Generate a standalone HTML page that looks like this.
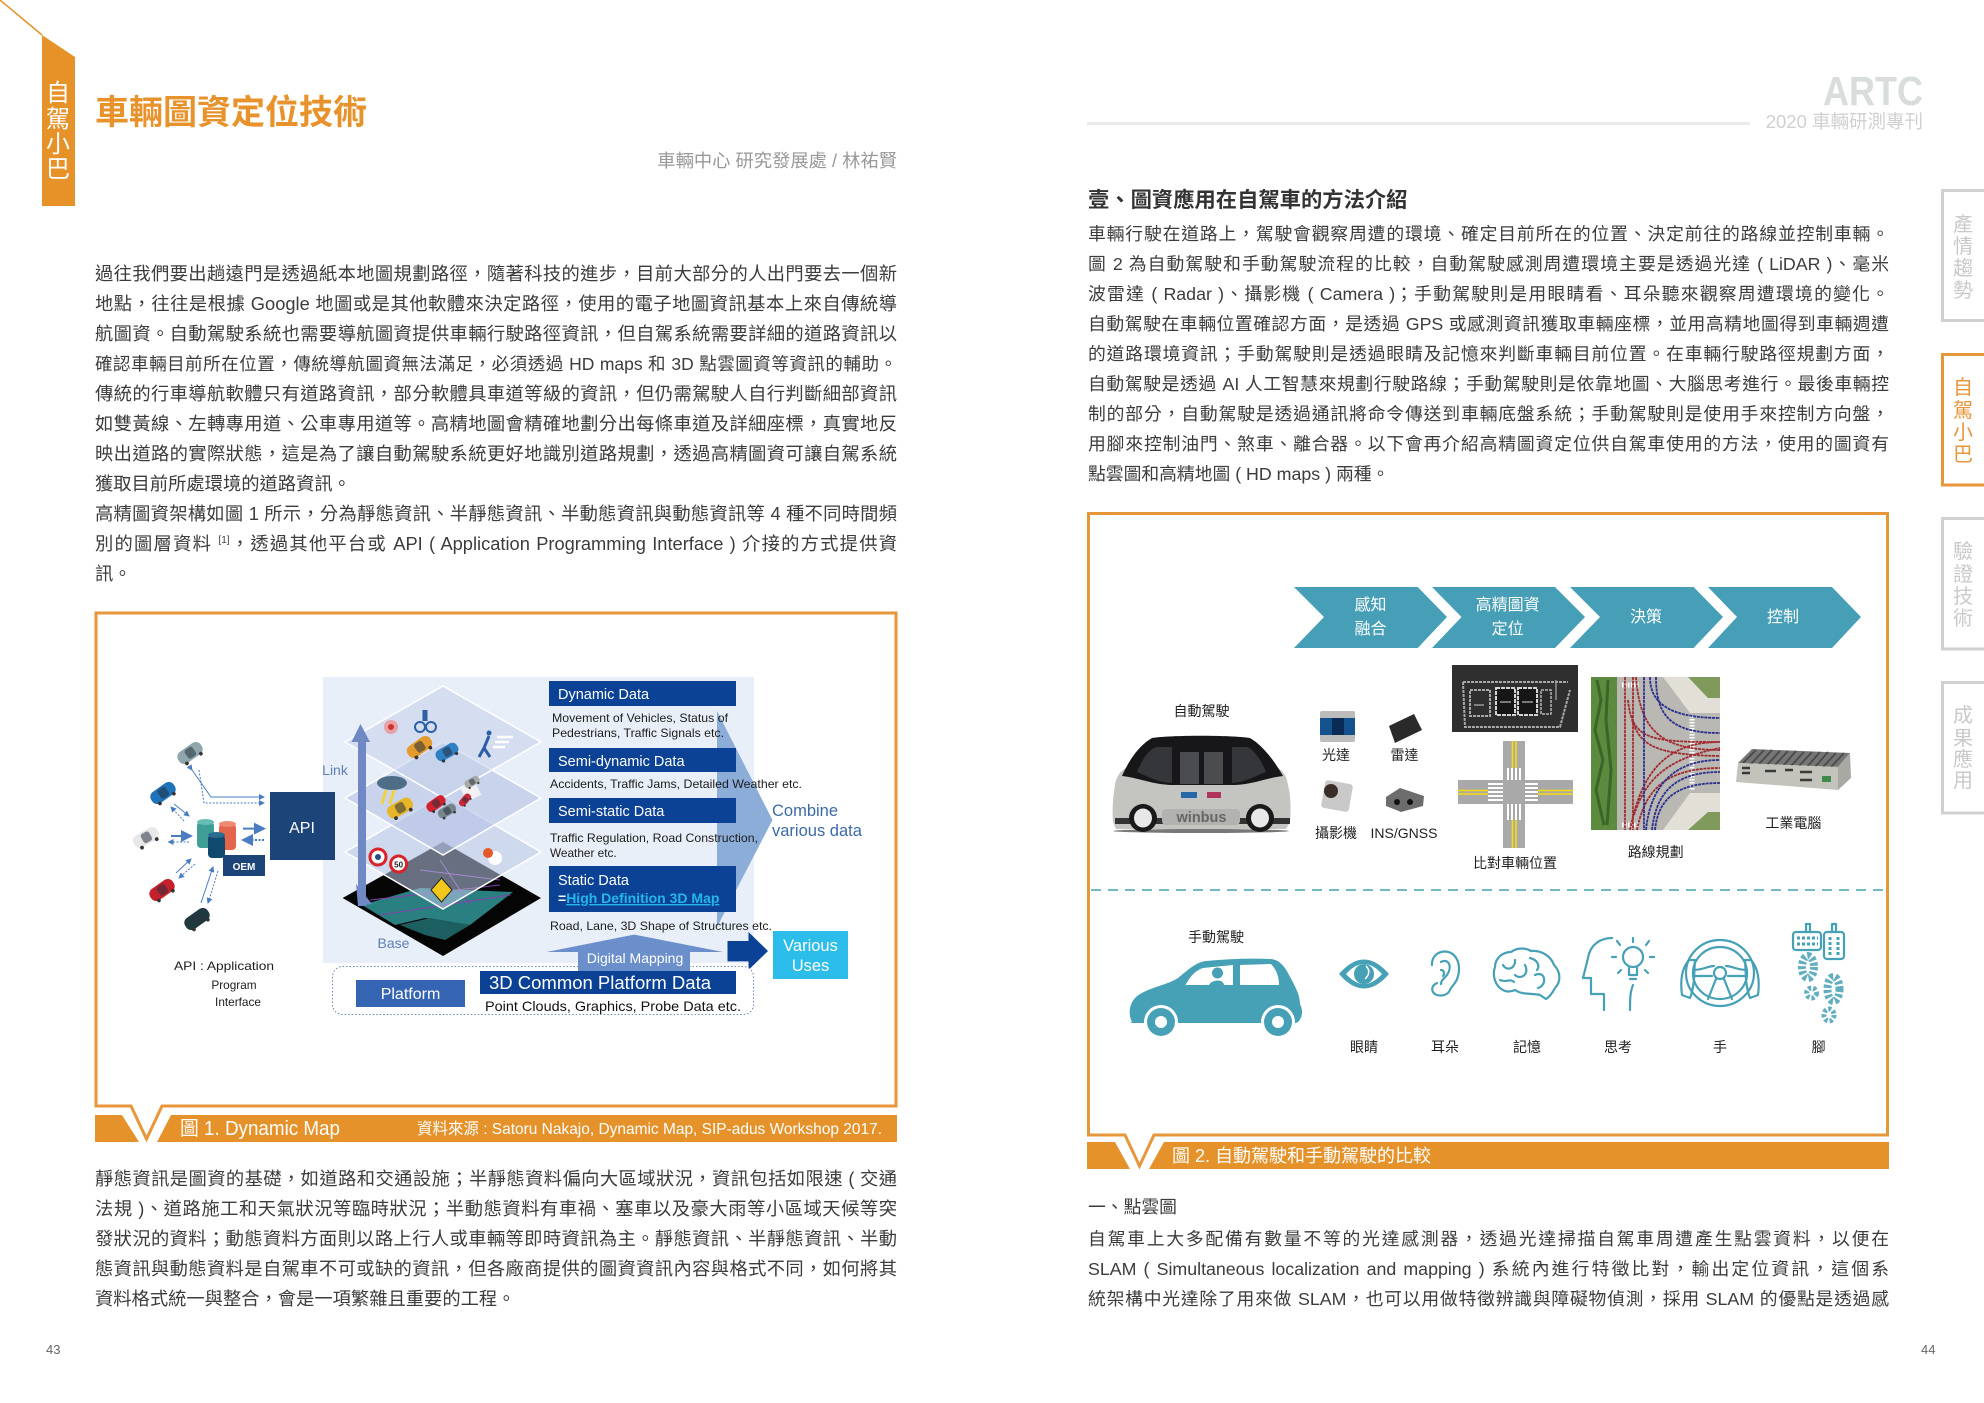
<!DOCTYPE html>
<html lang="zh-Hant">
<head>
<meta charset="utf-8">
<title>車輛圖資定位技術</title>
<style>
html,body{margin:0;padding:0;background:#fff}
body{position:relative;width:1984px;height:1403px;overflow:hidden;font-family:"Liberation Sans","Noto Sans CJK TC",sans-serif;color:#3c3c3c}
.l,.r{position:absolute;height:30px;line-height:30px;white-space:nowrap;text-align:justify;text-align-last:justify}
.l{left:95px;width:802px;font-size:18.3px}
.r{left:1088px;width:801px;font-size:17.8px}
.s{text-align-last:left}
sup{font-size:10px;line-height:0}
svg{position:absolute;left:0;top:0}
svg text{font-family:"Liberation Sans","Noto Sans CJK TC",sans-serif}
.m{text-anchor:middle}
.k{font-size:14px;fill:#222}
.e{font-size:11.8px;fill:#1c1c1c}
.w{fill:#fff}
.tab{font-size:20px;text-anchor:middle;fill:#c9c9c9}
</style>
</head>
<body>
<svg width="1984" height="1403" viewBox="0 0 1984 1403" xmlns="http://www.w3.org/2000/svg">
<defs>
<marker id="ah" markerWidth="6" markerHeight="6" refX="5" refY="3" orient="auto"><path d="M0 0L6 3L0 6z" fill="#4a7cc4"/></marker>
<g id="car">
  <rect x="-16" y="-8" width="32" height="16" rx="7" fill="currentColor"/>
  <rect x="-5" y="-6" width="11" height="12" rx="3" fill="#26323e" opacity=".55"/>
  <circle cx="-10" cy="8" r="2.2" fill="#333"/><circle cx="10" cy="8" r="2.2" fill="#333"/>
</g>
</defs>

<!-- left ribbon -->
<path d="M0 0L42 35" stroke="#e69229" stroke-width="1.5" fill="none"/>
<polygon points="42,35 75,57 75,206 42,206" fill="#e69229"/>
<g style="font-size:24px" class="w m">
<text x="58" y="101" class="m w">自</text><text x="58" y="127" class="m w">駕</text><text x="58" y="152" class="m w">小</text><text x="58" y="177" class="m w">巴</text>
</g>
<text x="95" y="124" style="font-size:34px;font-weight:700" fill="#e8922c">車輛圖資定位技術</text>
<text x="897" y="167" text-anchor="end" style="font-size:18.3px" fill="#999">車輛中心 研究發展處 / 林祐賢</text>

<!-- figure 1 frame -->
<rect x="95" y="1115" width="802" height="27" fill="#e6922b"/>
<polygon points="122,1115 171,1115 157,1142 139,1142" fill="#fff"/>
<path d="M96 1106V613H896V1106H162L146.5 1139L131 1106Z" fill="#fff" stroke="#e8963a" stroke-width="3"/>
<text x="180" y="1135" style="font-size:20px" class="w" textLength="160" lengthAdjust="spacingAndGlyphs">圖 1. Dynamic Map</text>
<text x="417" y="1134" style="font-size:16px" class="w" textLength="465" lengthAdjust="spacingAndGlyphs">資料來源 : Satoru Nakajo, Dynamic Map, SIP-adus Workshop 2017.</text>

<!-- figure 1 content -->
<rect x="323" y="677" width="431" height="286" fill="#e9eff8"/>
<polygon points="717,711 772.5,820 717,927" fill="#8badd8"/>
<!-- base -->
<polygon points="342.6,898 443,842 541,898 443,956" fill="#050505"/>
<polygon points="362,905 420,888 513,892 470,925 425,918 395,925" fill="#2a7f80"/>
<polygon points="400,925 430,918 470,925 445,940 425,935" fill="#1d5e60"/>
<path d="M370 900L500 885M380 915L510 895M420 870L500 880M440 860L470 905" stroke="#8a3fb0" stroke-width="1" fill="none"/>
<!-- layers -->
<polygon points="345,852 443,795 541,852 443,909" fill="#b9c6e6" fill-opacity=".55" stroke="#fff" stroke-width="1.5"/>
<polygon points="345,798 443,742 541,798 443,855" fill="#b4c2e4" fill-opacity=".6" stroke="#fff" stroke-width="1.5"/>
<polygon points="345,742 443,686 541,742 443,798" fill="#c5d0eb" fill-opacity=".55" stroke="#fff" stroke-width="1.5"/>
<polygon points="441.5,878 452,890 441.5,902 431,890" fill="#f2c81c" stroke="#222"/>
<!-- link arrow -->
<rect x="358" y="738" width="8" height="168" fill="#7088c4"/>
<polygon points="351.5,742 360.5,724 370,742" fill="#7088c4"/>
<polygon points="356,884 372,904 358,906" fill="#7088c4"/>
<!-- scene objects -->
<circle cx="391" cy="727" r="7" fill="#e88" opacity=".7"/><circle cx="391" cy="727" r="3" fill="#c33"/>
<circle cx="420" cy="727" r="5" fill="none" stroke="#2c5fa6" stroke-width="2"/><circle cx="431" cy="727" r="5" fill="none" stroke="#2c5fa6" stroke-width="2"/><path d="M425 721V710" stroke="#2c5fa6" stroke-width="5"/>
<use href="#car" transform="translate(419.5,747) rotate(-35) scale(.85)" color="#e49a2c"/>
<use href="#car" transform="translate(447,752) rotate(-30) scale(.75)" color="#2f7fc4"/>
<path d="M489 736L484 748L479 757M484 748L490 757" stroke="#2c5fa6" stroke-width="3" fill="none"/><circle cx="489" cy="733" r="2.5" fill="#2c5fa6"/>
<path d="M497 737H513M495 742H509M493 747H505" stroke="#fff" stroke-width="2.5"/>
<ellipse cx="392" cy="783" rx="15" ry="7" fill="#4e6e88"/>
<path d="M386 790L382 804M394 790L390 804" stroke="#f2d33b" stroke-width="3"/>
<use href="#car" transform="translate(400,808) rotate(-30) scale(.85)" color="#e6b52a"/>
<use href="#car" transform="translate(436,803.6) rotate(-35) scale(.65)" color="#d3222f"/>
<use href="#car" transform="translate(447,811) rotate(-30) scale(.6)" color="#77858f"/>
<rect x="463" y="785" width="16" height="14" fill="#f2f2f2" transform="rotate(-25 471 792)"/>
<use href="#car" transform="translate(472,782) rotate(-30) scale(.5)" color="#a9a9a9"/>
<use href="#car" transform="translate(465,800) rotate(-50) scale(.45)" color="#c9283a"/>
<circle cx="378" cy="857" r="8" fill="#fff" stroke="#d8232a" stroke-width="3"/><circle cx="378" cy="857" r="3" fill="#2b4a8a"/>
<circle cx="398.6" cy="864" r="8" fill="#fff" stroke="#d8232a" stroke-width="3"/>
<text x="398.6" y="867.5" class="m" style="font-size:8px;font-weight:700" fill="#222">50</text>
<circle cx="495" cy="858" r="7" fill="#fff"/><circle cx="488" cy="853" r="5" fill="#e4582a"/>
<!-- blue boxes -->
<rect x="549" y="681" width="187" height="25" fill="#0b4295"/>
<rect x="549" y="748" width="187" height="24" fill="#0b4295"/>
<rect x="549" y="798" width="187" height="25" fill="#0b4295"/>
<rect x="549" y="866" width="187" height="46" fill="#0b4295"/>
<text x="558" y="699" class="w" style="font-size:14.5px">Dynamic Data</text>
<text x="558" y="766" class="w" style="font-size:14.5px">Semi-dynamic Data</text>
<text x="558" y="816" class="w" style="font-size:14.5px">Semi-static Data</text>
<text x="558" y="885" class="w" style="font-size:14.5px">Static Data</text>
<text x="558" y="903" style="font-size:14px;font-weight:700" fill="#24b6ea"><tspan fill="#fff">=</tspan><tspan text-decoration="underline">High Definition 3D Map</tspan></text>
<text x="552" y="722" class="e" textLength="176" lengthAdjust="spacingAndGlyphs">Movement of Vehicles, Status of</text>
<text x="552" y="737" class="e" textLength="172" lengthAdjust="spacingAndGlyphs">Pedestrians, Traffic Signals etc.</text>
<text x="550" y="788" class="e" textLength="252" lengthAdjust="spacingAndGlyphs">Accidents, Traffic Jams, Detailed Weather etc.</text>
<text x="550" y="842" class="e" textLength="208" lengthAdjust="spacingAndGlyphs">Traffic Regulation, Road Construction,</text>
<text x="550" y="857" class="e">Weather etc.</text>
<text x="550" y="930" class="e" textLength="222" lengthAdjust="spacingAndGlyphs">Road, Lane, 3D Shape of Structures etc.</text>
<text x="772" y="816" style="font-size:16.5px" fill="#3b6aa8">Combine</text>
<text x="772" y="836" style="font-size:16.5px" fill="#3b6aa8">various data</text>
<rect x="773" y="931" width="75" height="48" fill="#2cbdeb"/>
<text x="810.5" y="951" class="w m" style="font-size:16.5px">Various</text>
<text x="810.5" y="971" class="w m" style="font-size:16.5px">Uses</text>
<polygon points="727.5,941 748.5,941 748.5,932 768,951 748.5,970 748.5,961.4 727.5,961.4" fill="#0b4295"/>
<rect x="332.5" y="966.5" width="421" height="48" rx="10" fill="#fff" stroke="#6d88b5" stroke-dasharray="1.5 2"/>
<polygon points="546.6,952 634,934.6 723,952 690,952 690,971 578,971 578,952" fill="#6a8fcb"/>
<text x="635" y="963" class="w m" style="font-size:14px">Digital Mapping</text>
<rect x="480" y="971" width="256" height="23" fill="#0b4295"/>
<text x="489" y="989" class="w" style="font-size:18px" textLength="222" lengthAdjust="spacingAndGlyphs">3D Common Platform Data</text>
<text x="485" y="1011" style="font-size:14px" fill="#111" textLength="256" lengthAdjust="spacingAndGlyphs">Point Clouds, Graphics, Probe Data etc.</text>
<rect x="356" y="980" width="109" height="27" fill="#3565b2"/>
<text x="410.5" y="999" class="w m" style="font-size:16px">Platform</text>
<rect x="270" y="792" width="65" height="68" fill="#1d4478"/>
<text x="302" y="833" class="w m" style="font-size:16px">API</text>
<text x="335" y="775" class="m" style="font-size:14px" fill="#5e7fb8">Link</text>
<text x="393.5" y="948" class="m" style="font-size:14px" fill="#5e7fb8">Base</text>
<!-- cars -->
<use href="#car" transform="translate(190,753) rotate(-35) scale(.85)" color="#8fa6ac"/>
<use href="#car" transform="translate(163,793) rotate(-35) scale(.85)" color="#1d72b8"/>
<use href="#car" transform="translate(146,837.5) rotate(-30) scale(.85)" color="#e8e8e8"/>
<use href="#car" transform="translate(162,890) rotate(-35) scale(.85)" color="#c5202c"/>
<use href="#car" transform="translate(197,919) rotate(-35) scale(.85)" color="#1f3a3f"/>
<g stroke="#4a7cc4" stroke-width="1" fill="none" marker-end="url(#ah)">
<path d="M192 770L211 797H264" marker-start="url(#ah)"/>
<path d="M199 770L204 803H264" stroke-dasharray="2 1.5"/>
<path d="M174 804L189 816"/><path d="M184 821L171 807" stroke-dasharray="2 1.5"/>
<path d="M171 836H191" stroke-width="2"/><path d="M189 842H168.5" stroke-dasharray="2 1.5"/>
<path d="M176 873L191 859"/><path d="M195 864L179 878" stroke-dasharray="2 1.5"/>
<path d="M201 903L213 867"/><path d="M218 871L208 903" stroke-dasharray="2 1.5"/>
<path d="M243 828.6H264" stroke-width="2"/><path d="M264 840H243" stroke-width="2" stroke-dasharray="2 1.5"/>
</g>
<rect x="197" y="822" width="17" height="26" rx="4" fill="#3f9e96"/><ellipse cx="205.5" cy="822" rx="8.5" ry="3" fill="#65bdb4"/>
<rect x="219" y="824" width="17" height="26" rx="4" fill="#e4654c"/><ellipse cx="227.5" cy="824" rx="8.5" ry="3" fill="#ef8a72"/>
<rect x="208" y="835" width="17" height="23" rx="4" fill="#0f4a6e"/><ellipse cx="216.5" cy="835" rx="8.5" ry="3" fill="#2a6c91"/>
<rect x="223" y="855" width="42" height="21" fill="#1d4478"/>
<text x="244" y="870" class="w m" style="font-size:10px;font-weight:700">OEM</text>
<text x="174" y="970" class="e" textLength="100" lengthAdjust="spacingAndGlyphs">API : Application</text>
<text x="234" y="989" class="e m">Program</text>
<text x="238" y="1006" class="e m">Interface</text>

<!-- right header -->
<text x="1823" y="105" style="font-size:41px;font-weight:700" fill="#d9dcdc" textLength="100" lengthAdjust="spacingAndGlyphs">ARTC</text>
<rect x="1087" y="122" width="663" height="3" fill="#eaeaea"/>
<text x="1923" y="128" text-anchor="end" style="font-size:18.5px" fill="#d0d0d0">2020 車輛研測專刊</text>
<text x="1088" y="207" style="font-size:21.3px;font-weight:700" fill="#333">壹、圖資應用在自駕車的方法介紹</text>

<!-- tabs -->
<g fill="#fff" stroke-width="3">
<path d="M1984 190.5H1942.5V320.5H1984" stroke="#d0d0d0"/>
<path d="M1984 354.5H1942.5V485H1984" stroke="#e8963a"/>
<path d="M1984 518.5H1942.5V649H1984" stroke="#d0d0d0"/>
<path d="M1984 682.5H1942.5V813H1984" stroke="#d0d0d0"/>
</g>
<text x="1963" y="231" class="tab">產</text><text x="1963" y="253" class="tab">情</text><text x="1963" y="275" class="tab">趨</text><text x="1963" y="297" class="tab">勢</text>
<g><text x="1963" y="394" class="tab" style="fill:#e8963a">自</text><text x="1963" y="417" class="tab" style="fill:#e8963a">駕</text><text x="1963" y="439" class="tab" style="fill:#e8963a">小</text><text x="1963" y="461" class="tab" style="fill:#e8963a">巴</text></g>
<text x="1963" y="558" class="tab">驗</text><text x="1963" y="581" class="tab">證</text><text x="1963" y="603" class="tab">技</text><text x="1963" y="625" class="tab">術</text>
<text x="1963" y="722" class="tab">成</text><text x="1963" y="745" class="tab">果</text><text x="1963" y="766" class="tab">應</text><text x="1963" y="787" class="tab">用</text>

<!-- figure 2 frame -->
<rect x="1087" y="1142" width="802" height="27" fill="#e6922b"/>
<polygon points="1115,1142 1164,1142 1149,1169 1130,1169" fill="#fff"/>
<path d="M1088.5 1135V513.5H1887.5V1135H1154L1139.5 1166L1125 1135Z" fill="#fff" stroke="#e8963a" stroke-width="3"/>
<text x="1172" y="1162" class="w" style="font-size:18px">圖 2. 自動駕駛和手動駕駛的比較</text>

<!-- chevrons -->
<g fill="#469fb6">
<polygon points="1294,587 1417.7,587 1447,617 1417.7,648 1294,648 1324,617"/>
<polygon points="1432,587 1555,587 1585,617 1555,648 1432,648 1461.5,617"/>
<polygon points="1570,587 1693.6,587 1723,617 1693.6,648 1570,648 1600,617"/>
<polygon points="1708,587 1832,587 1861,617 1832,648 1708,648 1737,617"/>
</g>
<g style="font-size:16px">
<text x="1370.5" y="610" class="w m">感知</text><text x="1370.5" y="634" class="w m">融合</text>
<text x="1507.6" y="610" class="w m">高精圖資</text><text x="1507.6" y="634" class="w m">定位</text>
<text x="1646" y="622" class="w m">決策</text><text x="1783" y="622" class="w m">控制</text>
</g>
<!-- labels -->
<text x="1201.5" y="716" class="k m">自動駕駛</text>
<text x="1336" y="760" class="k m">光達</text><text x="1404.5" y="760" class="k m">雷達</text>
<text x="1336" y="838" class="k m">攝影機</text><text x="1404" y="838" class="k m">INS/GNSS</text>
<text x="1515" y="868" class="k m">比對車輛位置</text><text x="1655.7" y="857" class="k m">路線規劃</text><text x="1793.4" y="828" class="k m">工業電腦</text>
<!-- bus -->
<ellipse cx="1201" cy="831" rx="88" ry="2" fill="#777"/>
<path d="M1115 785C1117 772 1125 768 1130 766L1272 766C1280 768 1286 772 1288 785C1291 797 1291 812 1290 822L1286 829H1116L1113 822C1112 808 1113 797 1115 785Z" fill="#c4c4c1"/>
<path d="M1122 776C1130 758 1140 745 1152 738C1170 735 1232 735 1250 738C1262 745 1274 760 1283 776C1266 778 1255 784 1235 785H1170C1150 784 1140 778 1122 776Z" fill="#17171a"/>
<path d="M1137 772C1142 760 1148 750 1156 747H1172V783C1155 782 1147 776 1137 772Z" fill="#34363a"/>
<path d="M1232 747H1248C1256 752 1262 762 1266 772C1255 776 1246 782 1232 783Z" fill="#34363a"/>
<rect x="1180" y="752" width="19" height="32" fill="#4a4c50"/><rect x="1204" y="752" width="19" height="32" fill="#4a4c50"/>
<rect x="1115" y="818" width="175" height="6" fill="#333"/>
<rect x="1162" y="809" width="78" height="16" rx="4" fill="#b2b2b0"/>
<text x="1201.5" y="822" class="m" style="font-size:14.5px;font-weight:700" fill="#666">winbus</text>
<rect x="1181" y="792" width="16" height="6" fill="#2667a8"/><rect x="1207" y="792" width="14" height="6" fill="#b1345e"/>
<ellipse cx="1143" cy="818" rx="14" ry="14" fill="#1a1a1a"/><ellipse cx="1143" cy="818" rx="9" ry="9.5" fill="#e8e8e8"/>
<ellipse cx="1260" cy="818" rx="14" ry="14" fill="#1a1a1a"/><ellipse cx="1260" cy="818" rx="9" ry="9.5" fill="#e8e8e8"/>
<!-- sensors -->
<rect x="1320" y="711" width="35" height="31" rx="2" fill="#bcbcbc"/><rect x="1320" y="718" width="35" height="17" fill="#14528e"/><rect x="1332" y="718" width="12" height="17" fill="#082c56"/>
<polygon points="1389,726 1414,714 1422,730 1395,743" fill="#2a2a2a"/>
<rect x="1323" y="782" width="28" height="28" rx="3" fill="#c9c9c9" transform="rotate(10 1337 796)"/><circle cx="1331" cy="791" r="7" fill="#3a2e28"/>
<polygon points="1386,797 1400,788 1424,796 1423,806 1401,812 1386,806" fill="#6d6d6d"/><circle cx="1397" cy="802" r="3" fill="#111"/><circle cx="1410" cy="802" r="3" fill="#111"/>
<!-- point cloud -->
<rect x="1452" y="665" width="126" height="67" fill="#2f2f2f"/>
<path d="M1463 682H1568M1463 682L1465 727H1560L1570 690M1470 690H1490V716H1470Z" fill="none" stroke="#a8a8a8" stroke-width="2" stroke-dasharray="3 1"/>
<rect x="1496" y="688" width="19" height="27" fill="#161616" stroke="#d4d4d4" stroke-width="2" stroke-dasharray="4 1"/>
<rect x="1518" y="688" width="19" height="27" fill="#161616" stroke="#d4d4d4" stroke-width="2" stroke-dasharray="4 1"/>
<rect x="1541" y="690" width="10" height="24" fill="#2a2a2a" stroke="#b5b5b5" stroke-width="1.5" stroke-dasharray="3 1"/>
<path d="M1474 705H1484M1500 702H1511M1522 702H1533M1556 680V700" stroke="#999" stroke-width="1.4"/>
<!-- intersection -->
<rect x="1503" y="741" width="22" height="107" fill="#a9a9a9"/><rect x="1458" y="780" width="115" height="24" fill="#a9a9a9"/>
<path d="M1512.5 741V768M1516 741V768M1512.5 820V848M1516 820V848M1458 790.5H1488M1458 794H1488M1538 790.5H1573M1538 794H1573" stroke="#f7dc0f" stroke-width="1.6"/>
<path d="M1508 768V780M1512 768V780M1516 768V780M1520 768V780M1508 804V820M1512 804V820M1516 804V820M1520 804V820" stroke="#fff" stroke-width="2"/>
<path d="M1488 784H1503M1488 788H1503M1488 792H1503M1488 796H1503M1488 800H1503M1525 784H1538M1525 788H1538M1525 792H1538M1525 796H1538M1525 800H1538" stroke="#fff" stroke-width="2"/>
<!-- aerial -->
<rect x="1591" y="677" width="129" height="153" fill="#b9b8b3"/>
<rect x="1591" y="677" width="26" height="153" fill="#5c8a3f"/>
<path d="M1597 680L1601 700L1595 730L1603 760L1596 790L1604 825M1608 680L1606 720L1611 770L1607 825" stroke="#3a6628" stroke-width="3" fill="none"/>
<polygon points="1663,677 1720,677 1720,713 1690,713" fill="#e2dfd7"/><polygon points="1688,677 1720,677 1720,698 1708,698" fill="#7f9a5a"/>
<polygon points="1663,830 1720,830 1720,793 1690,793" fill="#e2dfd7"/><polygon points="1688,830 1720,830 1720,812 1708,812" fill="#7f9a5a"/>
<path d="M1622 685H1640M1622 825H1640M1692 716V790" stroke="#fff" stroke-width="5" stroke-dasharray="1.5 1.5"/>
<g fill="none" stroke-width="1.8" stroke="#a12a30" stroke-dasharray="3 .8">
<path d="M1625 677V830M1633 677V830M1628 700C1632 740 1650 742 1720 742M1636 677C1640 730 1660 750 1720 750M1630 830C1640 780 1660 742 1720 742M1637 830C1645 790 1665 768 1720 768M1632 720C1640 745 1655 755 1720 756M1634 815C1644 785 1660 760 1720 748"/>
</g>
<g fill="none" stroke-width="1.8" stroke="#2b2f8e" stroke-dasharray="3 .8">
<path d="M1644 677V830M1650 677C1650 700 1665 718 1720 718M1656 677C1656 715 1670 733 1720 733M1646 830C1650 790 1670 760 1720 760M1655 830C1658 800 1675 783 1720 783M1652 830C1656 795 1672 772 1720 772"/>
</g>
<!-- computer -->
<polygon points="1738,763 1752,749 1850,753 1838,767" fill="#767676"/>
<path d="M1756 750L1743 763M1764 750L1751 764M1772 750L1759 764M1780 751L1767 765M1788 751L1775 765M1796 751L1783 766M1804 752L1791 766M1812 752L1799 766M1820 752L1807 767M1828 752L1815 767M1836 753L1823 767M1844 753L1831 767" stroke="#4c4c4c" stroke-width="2"/>
<polygon points="1738,763 1838,767 1838,790 1736,782" fill="#c3c3bb"/>
<polygon points="1838,767 1850,753 1851,778 1838,790" fill="#a9a9a3"/>
<path d="M1742 768H1750M1742 773H1750M1765 771H1776M1785 770H1793M1800 772H1812M1800 780H1812" stroke="#3a3a3a" stroke-width="2.5"/>
<rect x="1822" y="776" width="9" height="6" fill="#3e8a4a"/>
<!-- dashed -->
<path d="M1091 890H1886" stroke="#46a0b6" stroke-width="1.5" stroke-dasharray="10 7"/>
<!-- lower row -->
<text x="1216" y="942" class="k m">手動駕駛</text>
<path d="M1132 1022C1128 1014 1129 1004 1136 997C1146 988 1168 985 1178 978C1188 970 1196 962 1206 961C1228 959 1250 958 1271 959C1280 960 1285 967 1289 975C1295 986 1300 995 1300 1004C1303 1010 1303 1017 1298 1022L1296 1023H1130Z" fill="#46a0b6"/>
<path d="M1185 986C1190 976 1196 970 1203 968L1233 965V985H1185Z" fill="#fff"/><path d="M1240 965L1271 964C1277 970 1279 978 1279 985H1240Z" fill="#fff"/>
<circle cx="1217.5" cy="973" r="5.5" fill="#46a0b6"/><path d="M1209 985C1211 980 1223 978 1224 985Z" fill="#46a0b6"/>
<circle cx="1161" cy="1022" r="17" fill="#fff"/><circle cx="1161" cy="1022" r="14" fill="#46a0b6"/><circle cx="1161" cy="1022" r="6" fill="#fff"/>
<circle cx="1278" cy="1022" r="17" fill="#fff"/><circle cx="1278" cy="1022" r="14" fill="#46a0b6"/><circle cx="1278" cy="1022" r="6" fill="#fff"/>
<path d="M1339 974Q1364 945 1389 974Q1364 1003 1339 974Z" fill="#46a0b6"/>
<path d="M1346 974Q1364 954 1382 974Q1364 994 1346 974Z" fill="#fff"/><circle cx="1364" cy="974" r="10" fill="#46a0b6"/><path d="M1366 966Q1372 972 1365 979" stroke="#fff" fill="none" stroke-width="1.5"/>
<g fill="none" stroke="#46a0b6" stroke-width="2.2" stroke-linecap="round" stroke-linejoin="round">
<path d="M1432 965C1431 948 1458 945 1459 968C1459 982 1452 985 1450 990C1447 997 1436 997 1433 992C1431 988 1433 985 1437 983M1441 962C1448 958 1453 966 1447 975C1444 979 1441 980 1441 984M1441 970C1444 970 1445 974 1443 976"/>
<path d="M1503 990C1495 986 1492 975 1495 967C1495 958 1503 952 1511 952C1518 947 1526 948 1531 951C1541 950 1551 956 1554 965C1561 972 1561 982 1555 988C1552 994 1548 998 1546 999L1540 995C1532 993 1522 995 1515 990C1511 992 1506 992 1503 990Z"/>
<path d="M1503 965C1507 972 1516 968 1515 960M1525 965C1530 975 1520 980 1515 975M1535 975C1545 970 1548 985 1538 988M1500 980C1506 983 1510 978 1514 982M1530 958C1538 960 1540 966 1537 970"/>
<path d="M1604 1010V994H1591V978H1583L1588 958C1590 945 1600 938 1612 938"/>
<circle cx="1633" cy="957" r="10"/><path d="M1629 968V975H1637V968M1630 979H1636M1633 985C1630 992 1630 1000 1630 1010"/>
<path d="M1633 938V942M1617 941L1620 945M1649 941L1646 945M1612 957H1616M1650 957H1654M1618 973L1621 970M1648 973L1645 970"/>
<ellipse cx="1720" cy="973" rx="34" ry="33"/><ellipse cx="1720" cy="973" rx="27" ry="26"/><circle cx="1720" cy="973" r="6"/>
<path d="M1693 970C1703 970 1708 966 1714 966M1747 970C1737 970 1732 966 1726 966M1716 979L1708 999M1724 979L1732 999M1693 976H1712M1747 976H1728"/>
<path d="M1689 960C1682 968 1680 980 1682 995L1690 998C1695 985 1694 972 1695 960ZM1751 960C1758 968 1760 980 1758 995L1750 998C1745 985 1746 972 1745 960Z"/>
<rect x="1793" y="932" width="28" height="18" rx="3"/><rect x="1824" y="932" width="20" height="27" rx="3"/><path d="M1806 932V924H1810V932M1832 932V924H1836V932"/>
</g>
<g fill="none" stroke="#46a0b6" stroke-width="3" stroke-dasharray="3 2">
<path d="M1797 938H1818M1797 944H1818M1830 937V955M1838 937V955" />
</g>
<g opacity=".85" fill="none" stroke="#46a0b6" stroke-dasharray="3 2">
<ellipse cx="1808" cy="967" rx="6" ry="11" stroke-width="8"/>
<ellipse cx="1811.6" cy="993" rx="5" ry="5" stroke-width="5"/>
<ellipse cx="1833.5" cy="989" rx="6" ry="12" stroke-width="8"/>
<ellipse cx="1829" cy="1015" rx="5" ry="6" stroke-width="5"/>
</g>
<text x="1364" y="1052" class="k m">眼睛</text><text x="1445" y="1052" class="k m">耳朵</text><text x="1527" y="1052" class="k m">記憶</text><text x="1618" y="1052" class="k m">思考</text><text x="1720" y="1052" class="k m">手</text><text x="1818.6" y="1052" class="k m">腳</text>

<text x="46" y="1354" style="font-size:13px" fill="#666">43</text>
<text x="1921" y="1354" style="font-size:13px" fill="#666">44</text>
</svg>

<div class="l" style="top:259px">過往我們要出趟遠門是透過紙本地圖規劃路徑&#65292;隨著科技的進步&#65292;目前大部分的人出門要去一個新</div>
<div class="l" style="top:289px">地點&#65292;往往是根據 Google 地圖或是其他軟體來決定路徑&#65292;使用的電子地圖資訊基本上來自傳統導</div>
<div class="l" style="top:319px">航圖資。自動駕駛系統也需要導航圖資提供車輛行駛路徑資訊&#65292;但自駕系統需要詳細的道路資訊以</div>
<div class="l" style="top:349px;font-size:17.5px">確認車輛目前所在位置&#65292;傳統導航圖資無法滿足&#65292;必須透過 HD maps 和 3D 點雲圖資等資訊的輔助。</div>
<div class="l" style="top:379px">傳統的行車導航軟體只有道路資訊&#65292;部分軟體具車道等級的資訊&#65292;但仍需駕駛人自行判斷細部資訊</div>
<div class="l" style="top:409px">如雙黃線、左轉專用道、公車專用道等。高精地圖會精確地劃分出每條車道及詳細座標&#65292;真實地反</div>
<div class="l" style="top:439px">映出道路的實際狀態&#65292;這是為了讓自動駕駛系統更好地識別道路規劃&#65292;透過高精圖資可讓自駕系統</div>
<div class="l s" style="top:469px">獲取目前所處環境的道路資訊。</div>
<div class="l" style="top:499px">高精圖資架構如圖 1 所示&#65292;分為靜態資訊、半靜態資訊、半動態資訊與動態資訊等 4 種不同時間頻</div>
<div class="l" style="top:529px">別的圖層資料 <sup>[1]</sup>&#65292;透過其他平台或 API ( Application Programming Interface ) 介接的方式提供資</div>
<div class="l s" style="top:559px">訊。</div>

<div class="l" style="top:1164px">靜態資訊是圖資的基礎&#65292;如道路和交通設施&#65307;半靜態資料偏向大區域狀況&#65292;資訊包括如限速 ( 交通</div>
<div class="l" style="top:1194px">法規 )、道路施工和天氣狀況等臨時狀況&#65307;半動態資料有車禍、塞車以及豪大雨等小區域天候等突</div>
<div class="l" style="top:1224px">發狀況的資料&#65307;動態資料方面則以路上行人或車輛等即時資訊為主。靜態資訊、半靜態資訊、半動</div>
<div class="l" style="top:1254px">態資訊與動態資料是自駕車不可或缺的資訊&#65292;但各廠商提供的圖資資訊內容與格式不同&#65292;如何將其</div>
<div class="l s" style="top:1284px">資料格式統一與整合&#65292;會是一項繁雜且重要的工程。</div>

<div class="r" style="top:219px">車輛行駛在道路上&#65292;駕駛會觀察周遭的環境、確定目前所在的位置、決定前往的路線並控制車輛。</div>
<div class="r" style="top:249px">圖 2 為自動駕駛和手動駕駛流程的比較&#65292;自動駕駛感測周遭環境主要是透過光達 ( LiDAR )、毫米</div>
<div class="r" style="top:279px">波雷達 ( Radar )、攝影機 ( Camera )&#65307;手動駕駛則是用眼睛看、耳朵聽來觀察周遭環境的變化。</div>
<div class="r" style="top:309px">自動駕駛在車輛位置確認方面&#65292;是透過 GPS 或感測資訊獲取車輛座標&#65292;並用高精地圖得到車輛週遭</div>
<div class="r" style="top:339px">的道路環境資訊&#65307;手動駕駛則是透過眼睛及記憶來判斷車輛目前位置。在車輛行駛路徑規劃方面&#65292;</div>
<div class="r" style="top:369px">自動駕駛是透過 AI 人工智慧來規劃行駛路線&#65307;手動駕駛則是依靠地圖、大腦思考進行。最後車輛控</div>
<div class="r" style="top:399px">制的部分&#65292;自動駕駛是透過通訊將命令傳送到車輛底盤系統&#65307;手動駕駛則是使用手來控制方向盤&#65292;</div>
<div class="r" style="top:429px">用腳來控制油門、煞車、離合器。以下會再介紹高精圖資定位供自駕車使用的方法&#65292;使用的圖資有</div>
<div class="r s" style="top:459px">點雲圖和高精地圖 ( HD maps ) 兩種。</div>

<div class="r s" style="top:1192px">一、點雲圖</div>
<div class="r" style="top:1224px">自駕車上大多配備有數量不等的光達感測器&#65292;透過光達掃描自駕車周遭產生點雲資料&#65292;以便在</div>
<div class="r" style="top:1254px">SLAM ( Simultaneous localization and mapping ) 系統內進行特徵比對&#65292;輸出定位資訊&#65292;這個系</div>
<div class="r" style="top:1284px">統架構中光達除了用來做 SLAM&#65292;也可以用做特徵辨識與障礙物偵測&#65292;採用 SLAM 的優點是透過感</div>
</body>
</html>
